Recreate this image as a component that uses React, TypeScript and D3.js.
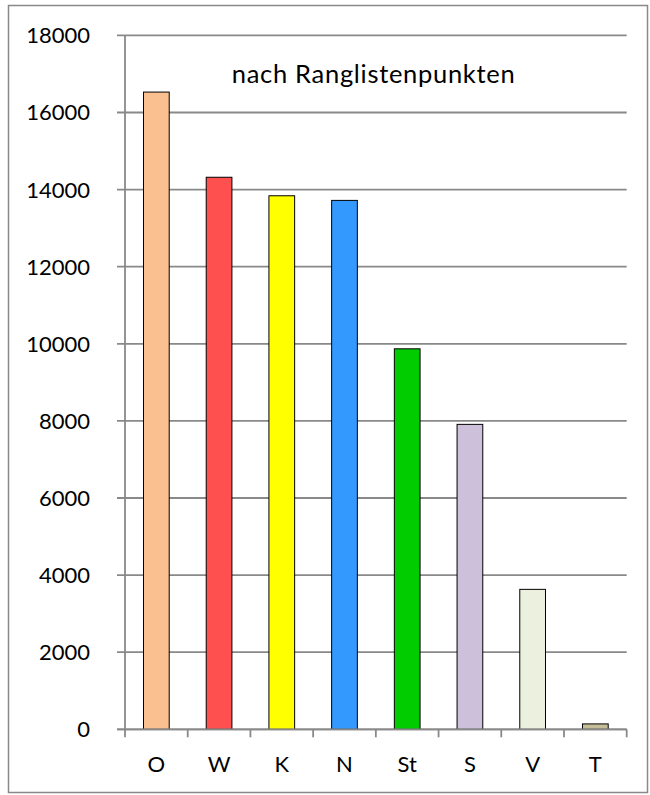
import { useMemo } from 'react'
import * as d3 from 'd3'

// --- DATA ---
const categories = ['O', 'W', 'K', 'N', 'St', 'S', 'V', 'T']
const points = [16530, 14320, 13840, 13720, 9870, 7910, 3630, 140]
const barColors = ['#FAC090', '#FF5050', '#FFFF00', '#3399FF', '#00CC00', '#CCC0DA', '#EBF1DE', '#C4BD97']
const yTicks = [0, 2000, 4000, 6000, 8000, 10000, 12000, 14000, 16000, 18000]
const title = 'nach Ranglistenpunkten'

const W = 650
const H = 795
const FONT = 'Lato, "Open Sans", sans-serif'

export default function App() {
  const x = useMemo(
    () => d3.scaleBand<string>().domain(categories).range([125, 626.7]).padding(0),
    []
  )
  const y = useMemo(() => d3.scaleLinear().domain([0, 18000]).range([729.3, 35.4]), [])

  const bw = x.bandwidth()
  const barW = bw * 0.41
  const grey = '#898989'

  return (
    <div style={{ width: W, height: H }}>
      <style>{'body{margin:0}'}</style>
      <svg width={W} height={H} style={{ display: 'block', fontFamily: FONT }}>
        <rect x={0} y={0} width={W} height={H} fill="#fff" />
        {/* outer frame */}
        <rect x={8.5} y={5.5} width={639} height={787} fill="none" stroke={grey} strokeWidth={1.5} />

        {/* gridlines + y ticks */}
        {yTicks.map((t) => (
          <g key={t}>
            <line x1={117} x2={626.7} y1={y(t)} y2={y(t)} stroke={grey} strokeWidth={1.8} />
            <text x={90} y={y(t)} dy="0.36em" textAnchor="end" fontSize={22} fill="#000">
              {t}
            </text>
          </g>
        ))}

        {/* y axis */}
        <line x1={125} x2={125} y1={y(18000)} y2={y(0)} stroke={grey} strokeWidth={1.8} />

        {/* x ticks */}
        {[...categories.map((c) => x(c) as number), 626.7].map((px, i) => (
          <line key={i} x1={px} x2={px} y1={y(0)} y2={y(0) + 8} stroke={grey} strokeWidth={1.8} />
        ))}

        {/* bars */}
        {categories.map((c, i) => (
          <rect
            key={c}
            x={(x(c) as number) + (bw - barW) / 2}
            y={y(points[i])}
            width={barW}
            height={y(0) - y(points[i])}
            fill={barColors[i]}
            stroke="#000"
            strokeWidth={1}
          />
        ))}
        {/* baseline over bar bottoms */}
        <line x1={117} x2={626.7} y1={y(0)} y2={y(0)} stroke={grey} strokeWidth={1.8} />

        {/* x labels */}
        {categories.map((c) => (
          <text
            key={c}
            x={(x(c) as number) + bw / 2}
            y={771.7}
            textAnchor="middle"
            fontSize={22}
            fill="#000"
          >
            {c}
          </text>
        ))}

        {/* title */}
        <text
          x={231.7}
          y={83.3}
          fontSize={25.5}
          textLength={283}
          lengthAdjust="spacing"
          fill="#000"
        >
          {title}
        </text>
      </svg>
    </div>
  )
}
